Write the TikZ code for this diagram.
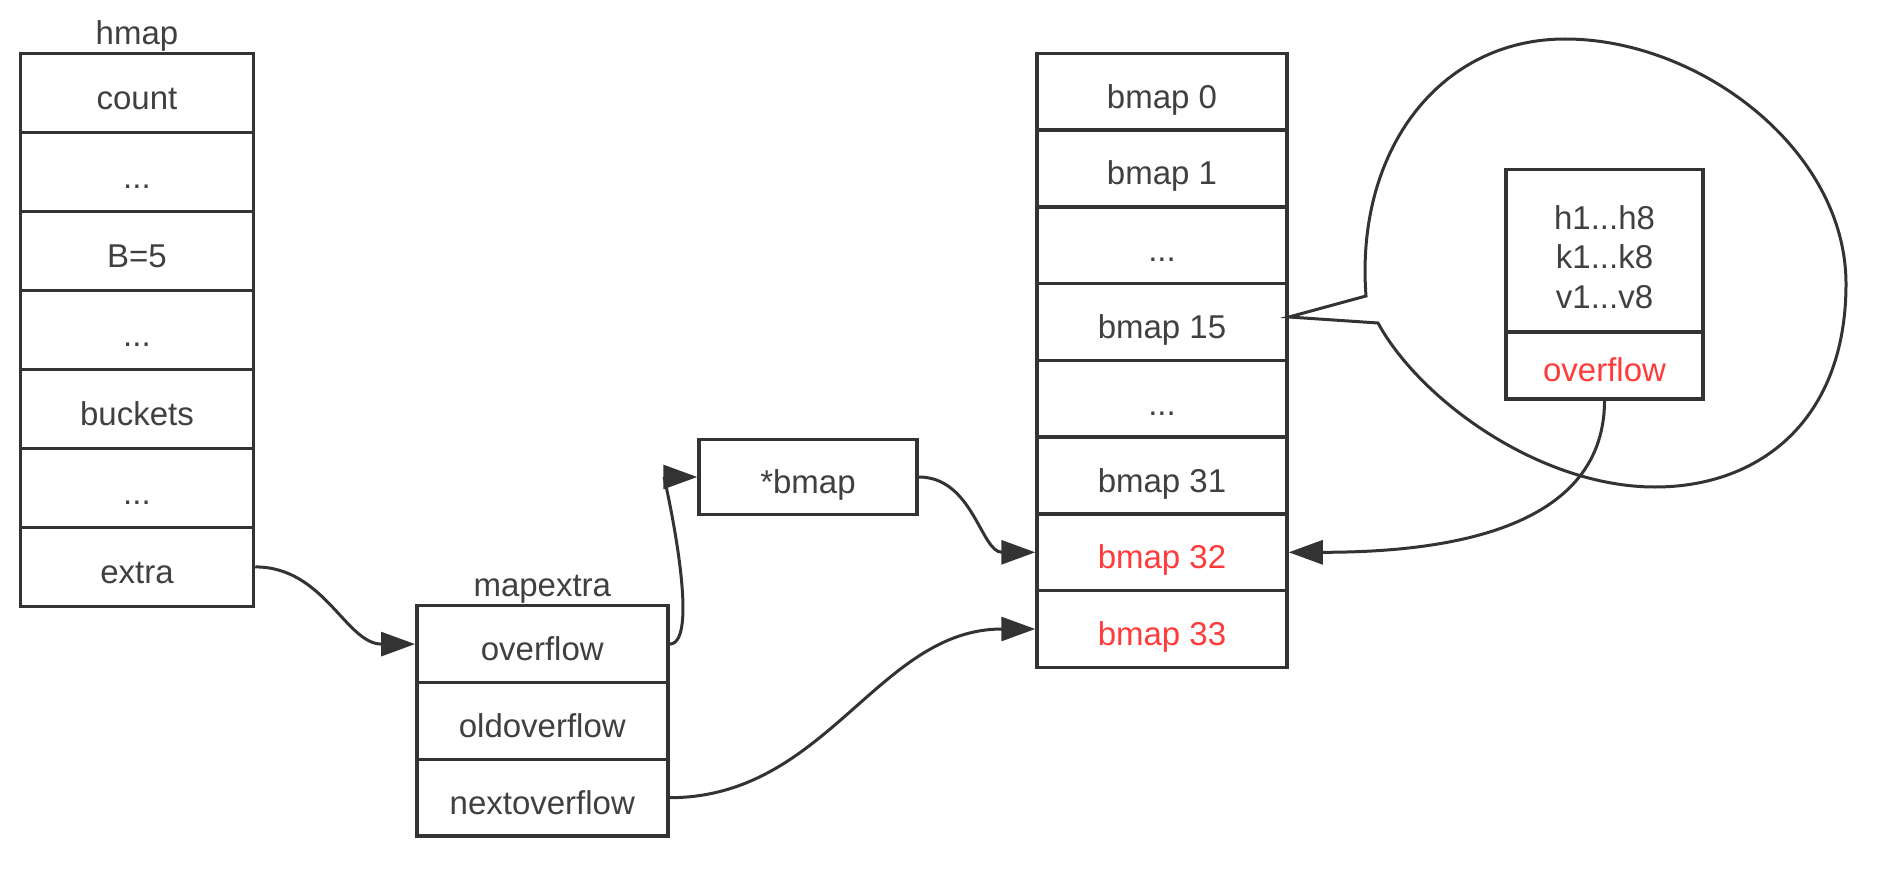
\documentclass[tikz,border=0pt]{standalone}
\usepackage{fontspec}
\setmainfont{Liberation Sans}
\usetikzlibrary{arrows.meta}
\definecolor{linec}{HTML}{333333}
\definecolor{textc}{HTML}{404040}
\definecolor{redc}{HTML}{FF3B3B}
\begin{document}
\begin{tikzpicture}[x=1pt,y=-1pt,
  every node/.style={font=\fontsize{33}{39.5}\selectfont, text=textc, inner sep=0pt},
  cell/.style={draw=linec, line width=3.5pt, fill=white, anchor=center, text height=33pt, text depth=0pt},
  hcell/.style={cell, minimum width=233pt, minimum height=79pt},
  mcell/.style={cell, minimum width=251pt, minimum height=76.8pt},
  bcell/.style={cell, minimum width=250pt, minimum height=76.75pt},
  redtext/.style={text=redc},
  link/.style={draw=linec, line width=3pt, -{Triangle[length=34pt,width=24pt]}},
  bubble/.style={draw=linec, line width=3pt, line join=miter}]
\fill[white] (0,0) rectangle (1880,872);
\useasboundingbox (0,0) rectangle (1880,872);

% hmap column
\node (hlabel) at (137,36) {hmap};
\node[hcell] (hcount)   at (137,92.9)  {count};
\node[hcell] (hdots1)   at (137,171.9) {...};
\node[hcell] (hB)       at (137,250.9) {B=5};
\node[hcell] (hdots2)   at (137,329.9) {...};
\node[hcell] (hbuckets) at (137,408.9) {buckets};
\node[hcell] (hdots3)   at (137,487.9) {...};
\node[hcell] (hextra)   at (137,566.9) {extra};

% mapextra column
\node (mlabel) at (542.3,589) {mapextra};
\node[mcell] (mover)  at (542.3,644.1) {overflow};
\node[mcell] (mold)   at (542.3,720.9) {oldoverflow};
\node[mcell] (mnext)  at (542.3,797.7) {nextoverflow};

% *bmap
\node[cell, minimum width=218pt, minimum height=75pt] (sbmap) at (808,477) {*bmap};

% bucket array
\node[bcell] (b0)  at (1162,91.8)  {bmap 0};
\node[bcell] (b1)  at (1162,168.5) {bmap 1};
\node[bcell] (bd1) at (1162,245.3) {...};
\node[bcell] (b15) at (1162,322.0) {bmap 15};
\node[bcell] (bd2) at (1162,398.8) {...};
\node[bcell] (b31) at (1162,475.5) {bmap 31};
\node[bcell, redtext] (b32) at (1162,552.3) {bmap 32};
\node[bcell, redtext] (b33) at (1162,629.0) {bmap 33};

% speech bubble
\draw[bubble] (1289,317) -- (1366,296)
  .. controls (1355,150) and (1440,39) .. (1565,39)
  .. controls (1700,39) and (1846,150) .. (1846,284)
  .. controls (1846,420) and (1760,487) .. (1655,487)
  .. controls (1540,487) and (1420,400) .. (1378,323)
  -- cycle;

% inner bucket box
\node[draw=linec, line width=3.5pt, fill=white, minimum width=197pt, minimum height=162.4pt] (itop) at (1604.5,250.8) {};
\node[align=center] (itext) at ([yshift=-6pt]itop.center) {h1...h8\\k1...k8\\v1...v8};
\node[cell, redtext, minimum width=197pt, minimum height=66.8pt] (iover) at (1604.5,365.4) {overflow};

% connectors
\draw[link] (hextra.east) to[out=0,in=180] (mover.west);
\draw[link] (mover.east) to[out=0,in=180,looseness=0.5] (sbmap.west);
\draw[link] (sbmap.east) to[out=0,in=180] (b32.west);
\draw[link] (mnext.east) to[out=0,in=180] (b33.west);
\draw[link] (iover.south) to[out=-90,in=0] (b32.east);
\end{tikzpicture}
\end{document}
